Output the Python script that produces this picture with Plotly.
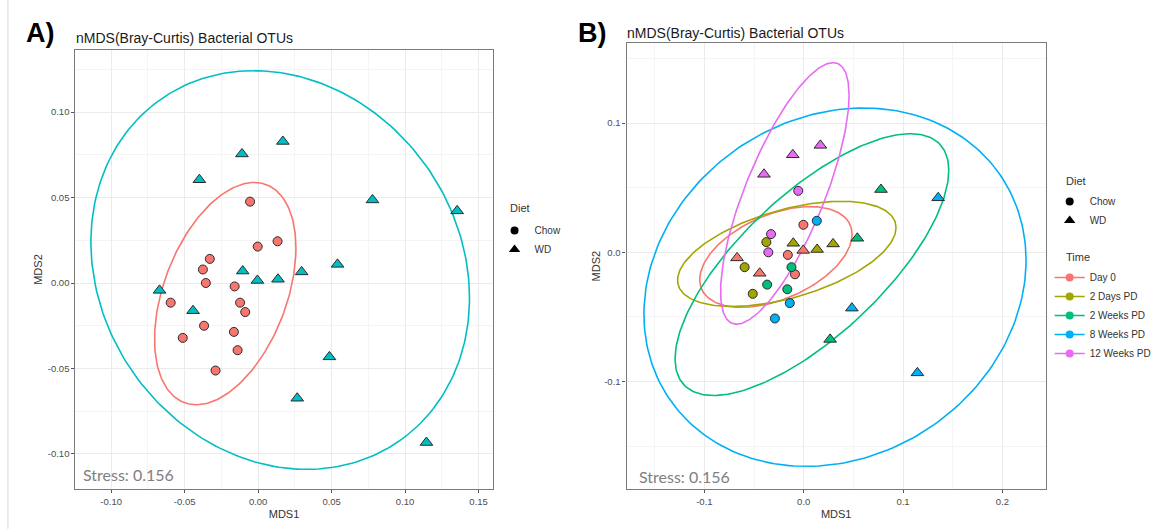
import numpy as np
import plotly.graph_objects as go

# ---------------- data ----------------
chow_x = [-0.0055, 0.0132, -0.0003, -0.0329, -0.0376, -0.0356, -0.0160, -0.0595,
          -0.0123, -0.0088, -0.0368, -0.0165, -0.0513, -0.0140, -0.0290]
chow_y = [0.0476, 0.0244, 0.0213, 0.0141, 0.0079, 0.0000, -0.0020, -0.0115,
          -0.0115, -0.0170, -0.0250, -0.0286, -0.0321, -0.0393, -0.0512]
chow_time = ["12 Weeks PD", "8 Weeks PD", "Day 0", "12 Weeks PD", "2 Days PD", "12 Weeks PD",
             "Day 0", "2 Days PD", "2 Weeks PD", "Day 0", "2 Weeks PD", "2 Weeks PD",
             "2 Days PD", "8 Weeks PD", "8 Weeks PD"]

wd_x = [0.0168, -0.0110, -0.0400, 0.0778, 0.1354, 0.0540, -0.0105, 0.0296,
        -0.0005, 0.0135, -0.0671, -0.0443, 0.0485, 0.0266, 0.1145]
wd_y = [0.0828, 0.0755, 0.0604, 0.0486, 0.0422, 0.0109, 0.0070, 0.0065,
        0.0015, 0.0022, -0.0043, -0.0162, -0.0432, -0.0674, -0.0933]
wd_time = ["12 Weeks PD", "12 Weeks PD", "12 Weeks PD", "2 Weeks PD", "8 Weeks PD", "2 Weeks PD",
           "2 Days PD", "2 Days PD", "Day 0", "2 Days PD", "Day 0", "Day 0",
           "8 Weeks PD", "2 Weeks PD", "8 Weeks PD"]

diet_levels = ["Chow", "WD"]
time_levels = ["Day 0", "2 Days PD", "2 Weeks PD", "8 Weeks PD", "12 Weeks PD"]

# ellipse parameters (centre x, centre y, half-width, half-height, correlation)
ellA_diet = ["Chow", "WD"]
ellA_cx = [-0.0224, 0.0150]
ellA_cy = [-0.0062, 0.0076]
ellA_w = [0.0481, 0.1288]
ellA_h = [0.0650, 0.1166]
ellA_r = [0.41, -0.14]

ellB_time = ["Day 0", "2 Days PD", "2 Weeks PD", "8 Weeks PD", "12 Weeks PD"]
ellB_cx = [-0.0280, -0.0170, 0.0083, 0.0315, -0.0190]
ellB_cy = [-0.0036, -0.0012, -0.0095, -0.0270, 0.0456]
ellB_w = [0.0767, 0.1100, 0.1378, 0.1924, 0.0647]
ellB_h = [0.0390, 0.0407, 0.1013, 0.1387, 0.1012]
ellB_r = [0.45, 0.50, 0.72, 0.15, 0.75]

stress_label = "Stress: 0.156"

# ---------------- styles ----------------
diet_colors = {"Chow": "#F8766D", "WD": "#00BFC4"}
time_colors = {"Day 0": "#F8766D", "2 Days PD": "#A3A500", "2 Weeks PD": "#00BF7D",
               "8 Weeks PD": "#00B0F6", "12 Weeks PD": "#E76BF3"}
diet_symbols = {"Chow": "circle", "WD": "triangle-up"}
diet_sizes = {"Chow": 9, "WD": 11}
FONT = "Liberation Sans, Arial, sans-serif"

W, H = 1156, 529


def ellipse(cx, cy, w, h, r, n=240):
    t = np.linspace(0, 2 * np.pi, n)
    x = cx + w * np.cos(t)
    y = cy + h * (r * np.cos(t) + np.sqrt(1 - r * r) * np.sin(t))
    return x, y


fig = go.Figure()

# ---------------- panel A ----------------
for d, cx, cy, w, h, r in zip(ellA_diet, ellA_cx, ellA_cy, ellA_w, ellA_h, ellA_r):
    ex, ey = ellipse(cx, cy, w, h, r)
    fig.add_trace(go.Scatter(x=ex, y=ey, mode="lines", line=dict(color=diet_colors[d], width=1.6),
                             hoverinfo="skip", showlegend=False, xaxis="x", yaxis="y"))

for d, xs, ys in [("Chow", chow_x, chow_y), ("WD", wd_x, wd_y)]:
    fig.add_trace(go.Scatter(x=xs, y=ys, mode="markers",
                             marker=dict(symbol=diet_symbols[d], size=diet_sizes[d],
                                         color=diet_colors[d], line=dict(color="#2b2b2b", width=1)),
                             showlegend=False, xaxis="x", yaxis="y"))

# ---------------- panel B ----------------
for tlev, cx, cy, w, h, r in zip(ellB_time, ellB_cx, ellB_cy, ellB_w, ellB_h, ellB_r):
    ex, ey = ellipse(cx, cy, w, h, r)
    fig.add_trace(go.Scatter(x=ex, y=ey, mode="lines", line=dict(color=time_colors[tlev], width=1.6),
                             hoverinfo="skip", showlegend=False, xaxis="x2", yaxis="y2"))

for d, xs, ys, ts in [("Chow", chow_x, chow_y, chow_time), ("WD", wd_x, wd_y, wd_time)]:
    for tlev in time_levels:
        idx = [i for i, tt in enumerate(ts) if tt == tlev]
        fig.add_trace(go.Scatter(x=[xs[i] for i in idx], y=[ys[i] for i in idx], mode="markers",
                                 marker=dict(symbol=diet_symbols[d], size=diet_sizes[d],
                                             color=time_colors[tlev],
                                             line=dict(color="#2b2b2b", width=1)),
                                 showlegend=False, xaxis="x2", yaxis="y2"))

# ---------------- legends ----------------
for lg in ["legend", "legend2"]:
    for d in diet_levels:
        fig.add_trace(go.Scatter(x=[None], y=[None], mode="markers", name=d, legend=lg,
                                 marker=dict(symbol=diet_symbols[d], size=diet_sizes[d] - 1, color="black"),
                                 xaxis="x", yaxis="y"))
for tlev in time_levels:
    fig.add_trace(go.Scatter(x=[None], y=[None], mode="lines+markers", name=tlev, legend="legend3",
                             line=dict(color=time_colors[tlev], width=1.6),
                             marker=dict(symbol="circle", size=8, color=time_colors[tlev]),
                             xaxis="x2", yaxis="y2"))


def px_x(p):
    return p / W


def px_y(p):
    return 1 - p / H


def axis(domain, rng, vals, texts, minor_vals, title, anchor, standoff):
    return dict(domain=domain, range=rng, anchor=anchor,
                tickmode="array", tickvals=vals, ticktext=texts,
                showline=True, mirror=True, linecolor="#7a7a7a", linewidth=1.3,
                ticks="outside", ticklen=3, tickcolor="#555555", tickwidth=1,
                showgrid=True, gridcolor="#EBEBEB", gridwidth=1, zeroline=False,
                tickfont=dict(family=FONT, size=9.5, color="#4d4d4d"),
                minor=dict(tickmode="array", tickvals=minor_vals, showgrid=True,
                           gridcolor="#F4F4F4", gridwidth=0.7),
                title=dict(text=title, font=dict(family=FONT, size=11, color="#333333"),
                           standoff=standoff),
                automargin=False, fixedrange=True)


legend_common = dict(bgcolor="rgba(0,0,0,0)", borderwidth=0,
                     font=dict(family=FONT, size=10, color="#333333"),
                     xanchor="left", yanchor="top", itemwidth=30, tracegroupgap=0)

fig.update_layout(
    height=H, autosize=True,
    margin=dict(l=0, r=0, t=0, b=0),
    paper_bgcolor="white", plot_bgcolor="white",
    xaxis=axis([px_x(76), px_x(496)], [-0.1243, 0.1595],
               [-0.10, -0.05, 0.0, 0.05, 0.10, 0.15],
               ["-0.10", "-0.05", "0.00", "0.05", "0.10", "0.15"],
               [-0.125, -0.075, -0.025, 0.025, 0.075, 0.125], "MDS1", "y", 4),
    yaxis=axis([px_y(489), px_y(50)], [-0.1205, 0.1363],
               [-0.10, -0.05, 0.0, 0.05, 0.10],
               ["-0.10", "-0.05", "0.00", "0.05", "0.10"],
               [-0.125, -0.075, -0.025, 0.025, 0.075, 0.125], "MDS2", "x", 2),
    xaxis2=axis([px_x(631), px_x(1053)], [-0.1783, 0.2437],
                [-0.1, 0.0, 0.1, 0.2], ["-0.1", "0.0", "0.1", "0.2"],
                [-0.15, -0.05, 0.05, 0.15], "MDS1", "y2", 4),
    yaxis2=axis([px_y(489), px_y(43.3)], [-0.1832, 0.1618],
                [-0.1, 0.0, 0.1], ["-0.1", "0.0", "0.1"],
                [-0.15, -0.05, 0.05, 0.15], "MDS2", "x2", 1),
    legend=dict(x=px_x(498), y=px_y(216), **legend_common),
    legend2=dict(x=px_x(1057), y=px_y(187), **legend_common),
    legend3=dict(x=px_x(1057), y=px_y(263), **legend_common),
    showlegend=True,
)

annotations = [
    dict(text="<b>A)</b>", x=px_x(24), y=px_y(33), xanchor="left", yanchor="middle",
         font=dict(family=FONT, size=27, color="black")),
    dict(text="<b>B)</b>", x=px_x(580), y=px_y(33), xanchor="left", yanchor="middle",
         font=dict(family=FONT, size=27, color="black")),
    dict(text="nMDS(Bray-Curtis) Bacterial OTUs", x=px_x(75), y=px_y(38), xanchor="left", yanchor="middle",
         font=dict(family=FONT, size=14, color="#1a1a1a")),
    dict(text="nMDS(Bray-Curtis) Bacterial OTUs", x=px_x(629), y=px_y(33), xanchor="left", yanchor="middle",
         font=dict(family=FONT, size=14, color="#1a1a1a")),
    dict(text=stress_label, x=px_x(82), y=px_y(474), xanchor="left", yanchor="middle",
         font=dict(family="Lato, sans-serif", size=16, color="#808080")),
    dict(text=stress_label, x=px_x(641), y=px_y(476), xanchor="left", yanchor="middle",
         font=dict(family="Lato, sans-serif", size=16, color="#808080")),
    dict(text="Diet", x=px_x(512), y=px_y(208), xanchor="left", yanchor="middle",
         font=dict(family=FONT, size=11, color="#333333")),
    dict(text="Diet", x=px_x(1071), y=px_y(181), xanchor="left", yanchor="middle",
         font=dict(family=FONT, size=11, color="#333333")),
    dict(text="Time", x=px_x(1071), y=px_y(257), xanchor="left", yanchor="middle",
         font=dict(family=FONT, size=11, color="#333333")),
]
for a in annotations:
    a.update(xref="paper", yref="paper", showarrow=False)
fig.update_layout(annotations=annotations)

fig.add_shape(type="line", xref="paper", yref="paper", x0=px_x(8), x1=px_x(8), y0=0, y1=1,
              line=dict(color="#d9d9d9", width=1))

fig.write_html("out.html", default_width="100%", default_height="%dpx" % H)
